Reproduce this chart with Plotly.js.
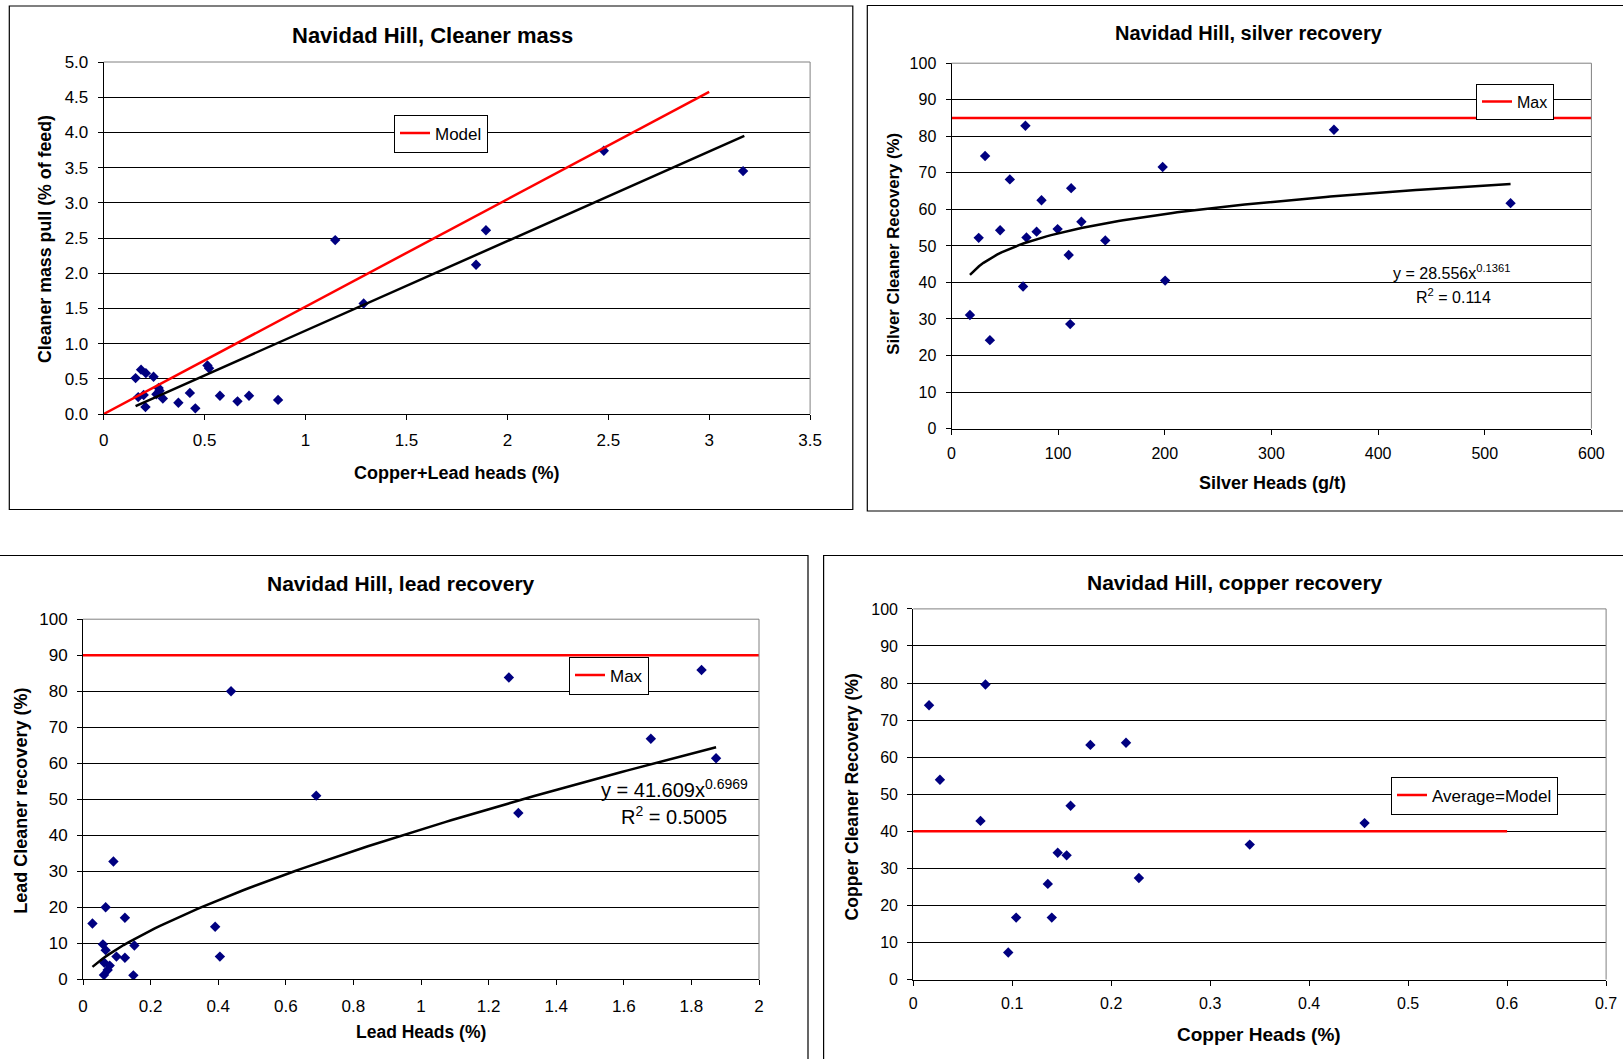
<!DOCTYPE html>
<html>
<head>
<meta charset="utf-8">
<script src="https://cdn.plot.ly/plotly-3.0.1.min.js"></script>
<style>
  html, body { margin: 0; padding: 0; background: #ffffff; }
  #chart { width: 1623px; height: 1059px; }
</style>
</head>
<body>
<div id="chart"></div>
<script>
// ---------------- DATA ----------------
// Panel 1: Navidad Hill, Cleaner mass
const massHeads = [0.158,0.171,0.185,0.198,0.207,0.209,0.247,0.261,0.272,0.277,0.293,0.370,0.427,0.454,0.514,0.522,0.576,0.663,0.720,0.864,1.147,1.288,1.845,1.894,2.478,3.168];
const massPull  = [0.51,0.24,0.63,0.27,0.10,0.58,0.53,0.28,0.37,0.33,0.22,0.16,0.30,0.08,0.69,0.65,0.26,0.18,0.26,0.20,2.47,1.57,2.12,2.61,3.74,3.45];
const massModelX = [0, 3];
const massModelY = [0, 4.575];
const massTrendX = [0.158, 3.174];
const massTrendY = [0.113, 3.95];

// Panel 2: Navidad Hill, silver recovery
const silverHeads = [17.3,25.5,31.5,36.0,45.6,54.7,67.1,69.3,70.3,79.8,84.4,99.5,109.9,111.3,112.2,121.8,144.2,198.0,200.3,358.6,524.2];
const silverRec   = [31.1,52.2,74.6,24.2,54.3,68.2,38.9,82.9,52.3,53.9,62.5,54.6,47.5,28.6,65.8,56.6,51.5,71.6,40.5,81.8,61.7];
const silverMaxX = [0, 600];
const silverMaxY = [85, 85];
const silverCoef = 28.556, silverExp = 0.1361, silverR2 = 0.114;

// Panel 3: Navidad Hill, lead recovery
const leadHeads = [0.028,0.059,0.062,0.063,0.067,0.067,0.073,0.079,0.090,0.099,0.124,0.124,0.149,0.152,0.391,0.405,0.438,0.690,1.260,1.288,1.680,1.830,1.873];
const leadRec   = [15.5,9.7,1.2,4.6,20.0,8.1,2.6,3.8,32.7,6.3,17.1,6.0,1.1,9.4,14.6,6.3,80.0,51.0,83.8,46.2,66.8,85.9,61.4];
const leadMaxX = [0, 2];
const leadMaxY = [90, 90];
const leadCoef = 41.609, leadExp = 0.6969, leadR2 = "0.5005";

// Panel 4: Navidad Hill, copper recovery
const copperHeads = [0.016,0.027,0.068,0.073,0.096,0.104,0.136,0.140,0.146,0.155,0.159,0.179,0.215,0.228,0.340,0.456];
const copperRec   = [74.0,53.9,42.8,79.6,7.3,16.7,25.8,16.7,34.2,33.5,46.9,63.3,63.9,27.4,36.4,42.2];
const copperModelX = [0, 0.6];
const copperModelY = [40, 40];

// Text
const titles = ["Navidad Hill, Cleaner mass", "Navidad Hill, silver recovery", "Navidad Hill, lead recovery", "Navidad Hill, copper recovery"];
const xTitles = ["Copper+Lead heads (%)", "Silver Heads (g/t)", "Lead Heads (%)", "Copper Heads (%)"];
const yTitles = ["Cleaner mass pull (% of feed)", "Silver Cleaner Recovery (%)", "Lead Cleaner recovery (%)", "Copper Cleaner Recovery (%)"];

// ---------------- LAYOUT HELPERS ----------------
const W = 1623, H = 1059;
const FONT = "Liberation Sans, Arial, Helvetica, sans-serif";
const PX = p => p / W;
const PY = p => 1 - p / H;

// power trend curve from the displayed equation, over the data range
function powerCurve(xs, a, b) {
  const lo = Math.min(...xs), hi = Math.max(...xs), n = 120;
  const cx = [], cy = [];
  for (let i = 0; i <= n; i++) {
    const x = lo + (hi - lo) * i / n;
    cx.push(x); cy.push(a * Math.pow(x, b));
  }
  return [cx, cy];
}
const silverTrend = powerCurve(silverHeads, silverCoef, silverExp);
const leadTrend = powerCurve(leadHeads, leadCoef, leadExp);

// plot areas in pixels: [left, top, right, bottom]
const areas = [
  [103.7, 62.0, 810.1, 414.0],
  [951.5, 63.2, 1591.4, 428.6],
  [83.0, 619.2, 759.0, 979.3],
  [913.2, 608.9, 1606.1, 979.5]
];

function xAxis(i, range, dtick, fs, anchor, standoff) {
  const a = areas[i];
  return {
    domain: [PX(a[0]), PX(a[2])], anchor: anchor, range: range, dtick: dtick, tick0: 0,
    showline: true, linecolor: "#000", linewidth: 1, mirror: false,
    ticks: "outside", ticklen: 5, tickcolor: "#000", tickwidth: 1,
    showgrid: false, zeroline: false, fixedrange: true,
    tickfont: { family: FONT, size: fs, color: "#000" }, ticklabelstandoff: standoff
  };
}
function yAxis(i, range, dtick, fs, anchor, fmt) {
  const a = areas[i];
  return {
    domain: [PY(a[3]), PY(a[1])], anchor: anchor, range: range, dtick: dtick, tick0: 0,
    showline: true, linecolor: "#000", linewidth: 1, mirror: false,
    ticks: "outside", ticklen: 5, tickcolor: "#000", tickwidth: 1,
    showgrid: true, gridcolor: "#000", gridwidth: 1, zeroline: false, fixedrange: true,
    tickformat: fmt || "",
    tickfont: { family: FONT, size: fs, color: "#000" }, ticklabelstandoff: 6
  };
}

const marker = { symbol: "diamond", size: 8, color: "#000080", line: { width: 0 } };
const red = { color: "#ff0000", width: 2.5 };
const blk = { color: "#000000", width: 2.5 };

const traces = [
  { x: massHeads, y: massPull, mode: "markers", type: "scatter", marker: marker, xaxis: "x", yaxis: "y", showlegend: false, name: "Data" },
  { x: massModelX, y: massModelY, mode: "lines", type: "scatter", line: red, xaxis: "x", yaxis: "y", name: "Model", legend: "legend" },
  { x: massTrendX, y: massTrendY, mode: "lines", type: "scatter", line: blk, xaxis: "x", yaxis: "y", showlegend: false, name: "Trend" },

  { x: silverHeads, y: silverRec, mode: "markers", type: "scatter", marker: marker, xaxis: "x2", yaxis: "y2", showlegend: false, name: "Data" },
  { x: silverMaxX, y: silverMaxY, mode: "lines", type: "scatter", line: red, xaxis: "x2", yaxis: "y2", name: "Max", legend: "legend2" },
  { x: silverTrend[0], y: silverTrend[1], mode: "lines", type: "scatter", line: blk, xaxis: "x2", yaxis: "y2", showlegend: false, name: "Power trend" },

  { x: leadHeads, y: leadRec, mode: "markers", type: "scatter", marker: marker, xaxis: "x3", yaxis: "y3", showlegend: false, name: "Data" },
  { x: leadMaxX, y: leadMaxY, mode: "lines", type: "scatter", line: red, xaxis: "x3", yaxis: "y3", name: "Max", legend: "legend3" },
  { x: leadTrend[0], y: leadTrend[1], mode: "lines", type: "scatter", line: blk, xaxis: "x3", yaxis: "y3", showlegend: false, name: "Power trend" },

  { x: copperHeads, y: copperRec, mode: "markers", type: "scatter", marker: marker, xaxis: "x4", yaxis: "y4", showlegend: false, name: "Data" },
  { x: copperModelX, y: copperModelY, mode: "lines", type: "scatter", line: red, xaxis: "x4", yaxis: "y4", name: "Average=Model", legend: "legend4" }
];

// legend boxes: left, top (px)
function legendAt(left, top, fs) {
  return {
    x: PX(left), y: PY(top), xref: "paper", yref: "paper", xanchor: "left", yanchor: "top",
    bgcolor: "#ffffff", bordercolor: "#000", borderwidth: 1,
    font: { family: FONT, size: fs, color: "#000" }, itemwidth: 30, tracegroupgap: 0
  };
}

const annotations = [];
function ann(text, x, y, size, bold, opts) {
  annotations.push(Object.assign({
    text: bold ? "<b>" + text + "</b>" : text, xref: "paper", yref: "paper",
    x: PX(x), y: PY(y), xanchor: "center", yanchor: "middle", showarrow: false,
    font: { family: FONT, size: size, color: "#000" }
  }, opts || {}));
}
// chart titles
ann(titles[0], 432.7, 35.2, 22, true);
ann(titles[1], 1249.4, 33.1, 20, true);
ann(titles[2], 400.6, 583.8, 21, true);
ann(titles[3], 1234.9, 582.8, 21, true);
// x axis titles
ann(xTitles[0], 457, 473, 18, true);
ann(xTitles[1], 1272.6, 483.4, 18, true);
ann(xTitles[2], 421, 1032, 17.5, true);
ann(xTitles[3], 1258.8, 1034, 19, true);
// y axis titles
ann(yTitles[0], 45, 239, 17.8, true, { textangle: -90 });
ann(yTitles[1], 894, 243.7, 16.7, true, { textangle: -90 });
ann(yTitles[2], 20.7, 801, 18, true, { textangle: -90 });
ann(yTitles[3], 851, 797.5, 17.6, true, { textangle: -90 });
// trend equations
ann("y = " + silverCoef + "x<sup>" + silverExp + "</sup>", 1390.5, 272, 16, false, { xanchor: "left" });
ann("R<sup>2</sup> = " + silverR2, 1414, 295.5, 16, false, { xanchor: "left" });
ann("y = " + leadCoef + "x<sup>" + leadExp + "</sup>", 599, 788.5, 20, false, { xanchor: "left" });
ann("R<sup>2</sup> = " + leadR2, 619, 815, 20, false, { xanchor: "left" });

const shapes = [];
function rectPx(x0, y0, x1, y1, color, width) {
  shapes.push({ type: "rect", xref: "paper", yref: "paper", x0: PX(x0), x1: PX(x1), y0: PY(y1), y1: PY(y0),
    line: { color: color, width: width }, fillcolor: "rgba(0,0,0,0)", layer: "below" });
}
function linePx(x0, y0, x1, y1, color, width) {
  shapes.push({ type: "line", xref: "paper", yref: "paper", x0: PX(x0), x1: PX(x1), y0: PY(y0), y1: PY(y1),
    line: { color: color, width: width }, layer: "above" });
}
// chart frames
rectPx(9.3, 6.0, 852.8, 509.5, "#000", 1.2);
rectPx(867.3, 5.5, 1640, 511.0, "#000", 1.2);
rectPx(-10, 555.5, 808, 1080, "#000", 1.2);
rectPx(823.6, 555.5, 1640, 1080, "#000", 1.2);
// plot area top/right borders (grey)
areas.forEach(a => {
  linePx(a[0], a[1], a[2], a[1], "#808080", 1);
  linePx(a[2], a[1], a[2], a[3], "#808080", 1);
});

const layout = {
  width: W, height: H,
  margin: { l: 0, r: 0, t: 0, b: 0, pad: 0 },
  paper_bgcolor: "#ffffff", plot_bgcolor: "#ffffff",
  font: { family: FONT, color: "#000" },
  showlegend: true,
  xaxis: xAxis(0, [0, 3.5], 0.5, 17, "y", 6),
  yaxis: yAxis(0, [0, 5], 0.5, 17, "x", ".1f"),
  xaxis2: xAxis(1, [0, 600], 100, 16, "y2", 5),
  yaxis2: yAxis(1, [0, 100], 10, 16, "x2"),
  xaxis3: xAxis(2, [0, 2], 0.2, 17, "y3", 6),
  yaxis3: yAxis(2, [0, 100], 10, 17, "x3"),
  xaxis4: xAxis(3, [0, 0.7], 0.1, 16, "y4", 4),
  yaxis4: yAxis(3, [0, 100], 10, 16, "x4"),
  legend: legendAt(394, 114.5, 17),
  legend2: legendAt(1476, 83.5, 16),
  legend3: legendAt(569, 656.5, 17),
  legend4: legendAt(1391, 776.5, 17),
  annotations: annotations,
  shapes: shapes
};

Plotly.newPlot("chart", traces, layout, { displayModeBar: false, staticPlot: true });
</script>
</body>
</html>
